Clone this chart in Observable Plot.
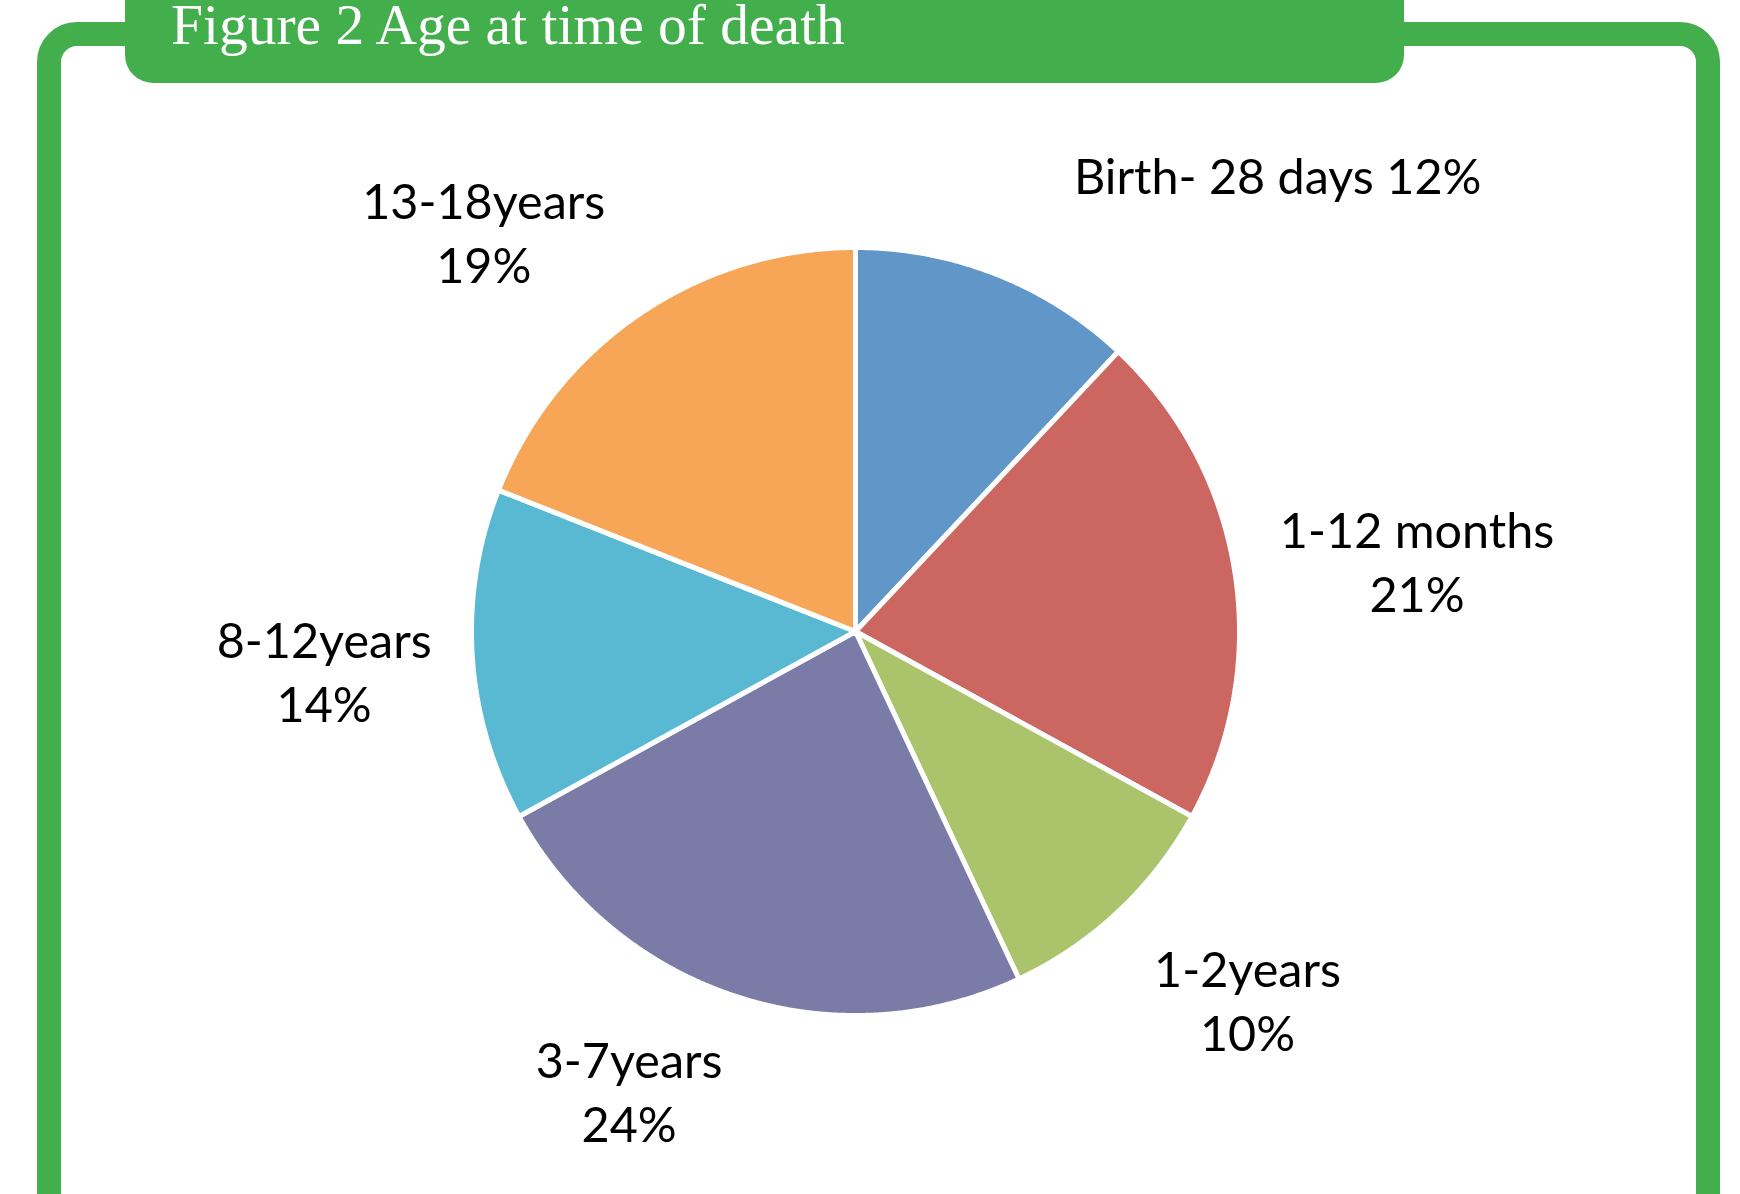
<!DOCTYPE html>
<html>
<head>
<meta charset="utf-8">
<script src="https://cdn.jsdelivr.net/npm/d3@7"></script>
<script src="https://cdn.jsdelivr.net/npm/@observablehq/plot@0.6"></script>
<style>
  html, body { margin: 0; padding: 0; background: #ffffff; }
  #wrap { position: relative; width: 1740px; height: 1194px; overflow: hidden; background: #ffffff; }
  #frame { position: absolute; left: 37px; top: 22px; width: 1635px; height: 1260px;
           border: 24px solid #42AF4C; border-radius: 40px; box-sizing: content-box; }
  #banner { position: absolute; left: 125px; top: -40px; width: 1279px; height: 123px;
            background: #42AF4C; border-radius: 0 0 28px 28px; }
  #title { position: absolute; left: 171px; top: -4px; margin: 0; font-family: "Liberation Serif", "DejaVu Serif", serif;
           font-size: 57.5px; line-height: 57px; font-weight: normal; color: #ffffff; white-space: nowrap; }
  #chart { position: absolute; left: 0; top: 0; }
</style>
</head>
<body>
<div id="wrap">
  <div id="frame"></div>
  <div id="banner"></div>
  <h1 id="title">Figure 2 Age at time of death</h1>
  <div id="chart"></div>
</div>
<script>
// ---- Data ----
const categories = ["Birth- 28 days", "1-12 months", "1-2years", "3-7years", "8-12years", "13-18years"];
const percents   = [12, 21, 10, 24, 14, 19];
const colors     = ["#6096C8", "#CC6661", "#ABC46B", "#7B7BA8", "#59B9D3", "#F7A657"];

// ---- Layout (Excel's manual label placement: shift from mid-angle in degrees, distance in radii) ----
const labelShiftDeg = [21.3, 2.1, -3.4, 8.1, -0.9, -8.9];
const labelRadius   = [1.615, 1.473, 1.405, 1.340, 1.388, 1.417];

const W = 1740, H = 1194, CX = 855, CY = 631, R = 384;

const pie = d3.pie().sort(null).value(d => d.value)(
  categories.map((c, i) => ({cat: c, value: percents[i]}))
);

// slice outlines in unit-radius coordinates (y up, angle clockwise from north)
const slicePts = [];
pie.forEach(s => {
  const a0 = s.startAngle, a1 = s.endAngle;
  const n = Math.max(2, Math.ceil((a1 - a0) / (Math.PI / 720)));
  slicePts.push({cat: s.data.cat, x: 0, y: 0});
  for (let k = 0; k <= n; k++) {
    const a = a0 + (a1 - a0) * k / n;
    slicePts.push({cat: s.data.cat, x: Math.sin(a), y: Math.cos(a)});
  }
});

const labels = pie.map((s, i) => {
  const mid = (s.startAngle + s.endAngle) / 2 + labelShiftDeg[i] * Math.PI / 180;
  const sep = i === 0 ? " " : "\n";
  return {
    text: s.data.cat + sep + s.data.value + "%",
    x: labelRadius[i] * Math.sin(mid),
    y: labelRadius[i] * Math.cos(mid)
  };
});

const fontSize = 48.5;
const chart = Plot.plot({
  width: W,
  height: H,
  margin: 0,
  x: {domain: [-CX / R, (W - CX) / R], range: [0, W], axis: null},
  y: {domain: [CY / R, -(H - CY) / R], range: [0, H], axis: null},
  color: {domain: categories, range: colors},
  style: {background: "transparent", fontFamily: "Lato, 'Open Sans', sans-serif"},
  marks: [
    Plot.line(slicePts, {x: "x", y: "y", z: "cat", fill: "cat", stroke: "white",
                         strokeWidth: 5, strokeLinejoin: "miter", curve: "linear-closed"}),
    Plot.text(labels, {x: "x", y: "y", text: "text", fill: "black", fontSize: fontSize, dy: -4,
                       lineHeight: 64.5 / fontSize, lineAnchor: "middle", textAnchor: "middle"})
  ]
});
document.getElementById("chart").appendChild(chart);
</script>
</body>
</html>
